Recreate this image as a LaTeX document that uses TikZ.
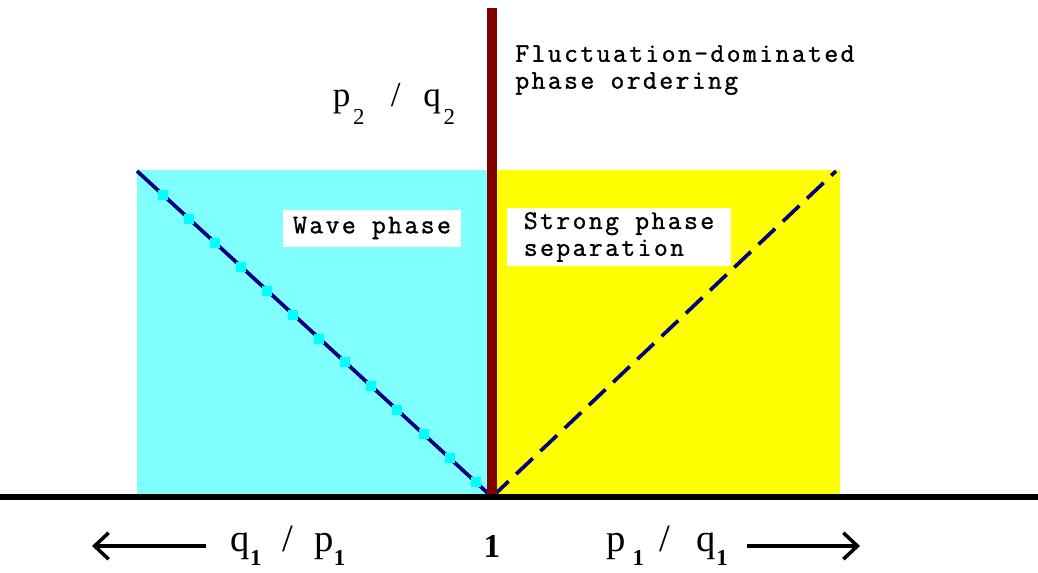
\documentclass[tikz,border=0pt]{standalone}
\usepackage{fontspec}
\setmainfont{Liberation Serif}
\newfontfamily\couriertxt[LetterSpace=9,FakeBold=1.2]{Latin Modern Mono}
\usetikzlibrary{arrows.meta,calc}
\definecolor{wavecyan}{RGB}{128,255,255}
\definecolor{markcyan}{RGB}{0,255,255}
\definecolor{linenavy}{RGB}{0,0,128}
\definecolor{ordred}{RGB}{128,0,0}
\definecolor{strongyellow}{RGB}{255,255,0}
\newcommand{\lowidx}[2]{\raisebox{#1}{\fontsize{13}{13}\selectfont #2}}
\tikzset{
  monotxt/.style={font=\fontsize{15.3}{15.3}\selectfont\couriertxt, inner sep=0pt},
  phasebox/.style={monotxt, fill=white},
  ratio/.style={font=\fontsize{22}{22}\selectfont, inner sep=0pt},
  axisarr/.style={-{Straight Barb[length=8pt,width=15pt]}, line width=2pt}
}
\begin{document}
\begin{tikzpicture}[x=0.02cm,y=-0.02cm]
		\useasboundingbox (0,0) rectangle (1038,572);
		\fill[wavecyan] (137,170) rectangle (488,497);
		\fill[strongyellow] (497,170) rectangle (840,497);
		\coordinate (O) at (492,497);
		\coordinate (L) at (137,171);
		\coordinate (R) at (836,171);
		\coordinate (T) at (492,8);
		\draw[linenavy, line width=2.1pt] (L) -- (O);
		\foreach \i in {0,...,12}
			\fill[markcyan] ($(L)!{0.074+0.0733*\i}!(O)$) +(-5,-5) rectangle +(5,5);
		\draw[linenavy, line width=2.1pt, dash pattern=on 13pt off 6pt] (O) -- (R);
		\draw[ordred, line width=6.2pt] (T) -- (O);
		\draw[line width=3.3pt] (0,497) -- (1038,497);
		\node[monotxt, anchor=north west, align=left] (fluct) at (515,45) {Fluctuation-dominated\\phase ordering};
		\node[ratio, font=\fontsize{20}{20}\selectfont] (pq2) at (394,104) {p\hspace{1.5pt}\lowidx{-10pt}{2}\hspace{15pt}/\hspace{13pt}q\hspace{1.5pt}\lowidx{-10pt}{2}};
		\node[phasebox, minimum width=3.58cm, minimum height=0.74cm] (wave) at (372,228) {Wave phase};
		\node[phasebox, align=left, minimum width=4.48cm, minimum height=1.16cm] (strong) at (619,237) {Strong phase\\separation};
		% axis labels
		\node[ratio, font=\fontsize{19}{19}\selectfont\bfseries] (one) at (492,546) {1};
		\node[ratio, inner xsep=14pt] (qp1) at (288,546) {q\lowidx{-8pt}{\bfseries 1}\hspace{12pt}/\hspace{12pt}p\lowidx{-8pt}{\bfseries 1}};
		\node[ratio, inner xsep=11pt] (pq1) at (667,546) {p\hspace{4pt}\lowidx{-8pt}{\bfseries 1}\hspace{9pt}/\hspace{15pt}q\lowidx{-8pt}{\bfseries 1}};
		\coordinate (lefttip) at (92,0);
		\coordinate (righttip) at (860,0);
		\draw[axisarr] (qp1) -- (qp1 -| lefttip);
		\draw[axisarr] (pq1) -- (pq1 -| righttip);
\end{tikzpicture}
\end{document}
